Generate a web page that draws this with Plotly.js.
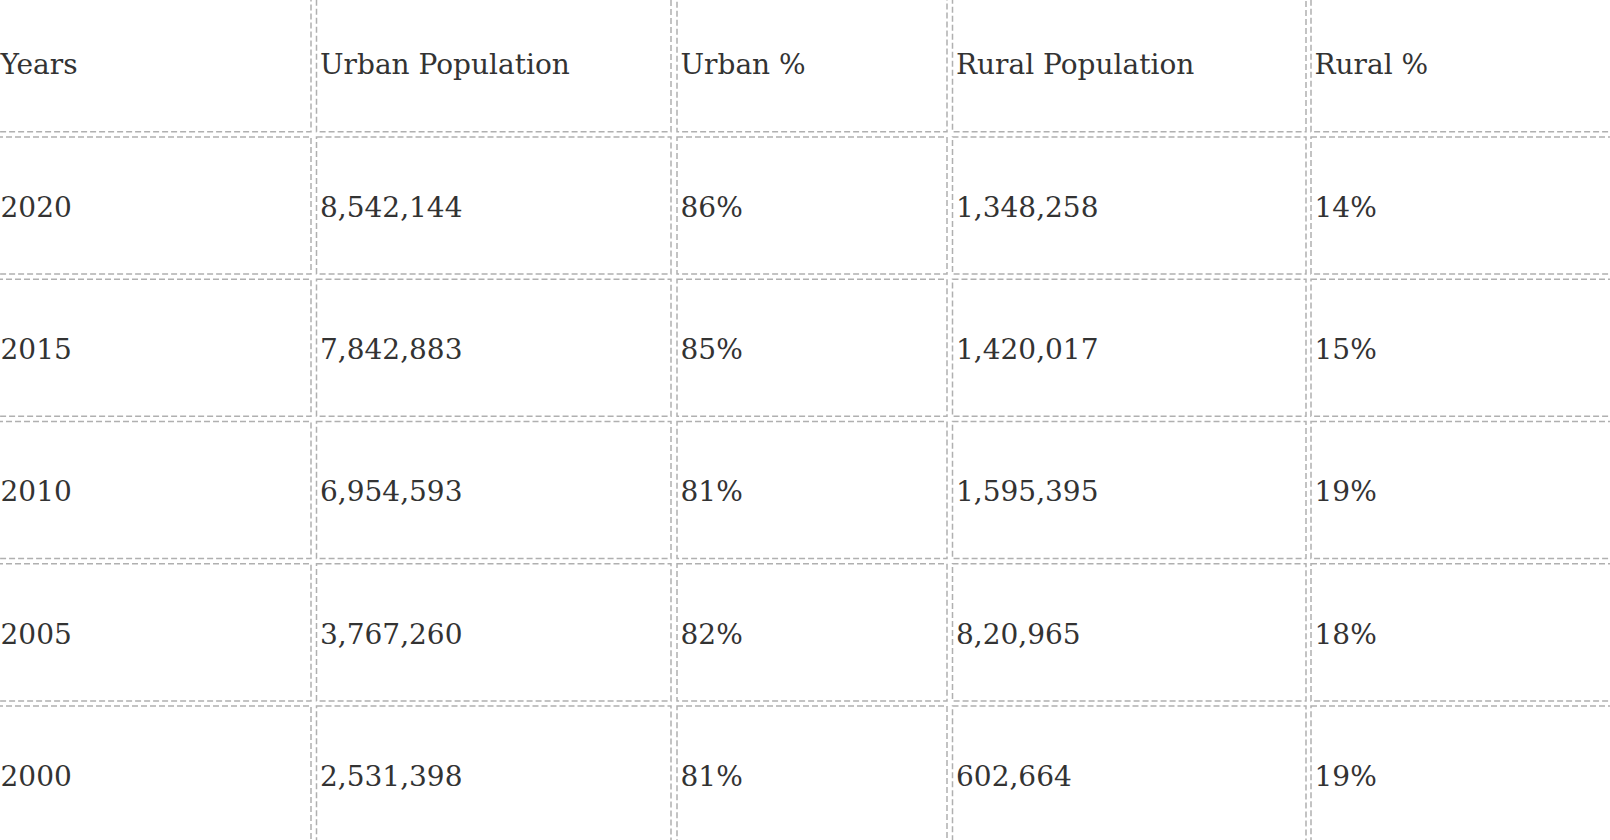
<!DOCTYPE html>
<html>
<head>
<meta charset="utf-8">
<script src="https://cdn.plot.ly/plotly-3.0.1.min.js"></script>
<style>
  html, body { margin: 0; padding: 0; background: #ffffff; }
  #chart { width: 1610px; height: 840px; }
</style>
</head>
<body>
<div id="chart"></div>
<script>
// ---- data ----
const headers = ["Years", "Urban Population", "Urban %", "Rural Population", "Rural %"];
const years = ["2020", "2015", "2010", "2005", "2000"];
const urbanPopulation = ["8,542,144", "7,842,883", "6,954,593", "3,767,260", "2,531,398"];
const urbanPct = ["86%", "85%", "81%", "82%", "81%"];
const ruralPopulation = ["1,348,258", "1,420,017", "1,595,395", "8,20,965", "602,664"];
const ruralPct = ["14%", "15%", "19%", "18%", "19%"];

// ---- layout geometry (pixel-unit axes) ----
const W = 1610, H = 840;
const colLeft  = [-3, 316.5, 677, 952.5, 1311];
const colRight = [311, 671, 947, 1306, 1625];
const rowPitch = 142.3;
const headerBottom = 131.7;   // bottom border of header row
const cellGap = 5.2;          // spacing between adjacent cell borders
const textDrop = 4.2;         // text sits a little below the cell middle
const nRows = years.length + 1;

function rowTop(k) { return headerBottom + cellGap + rowPitch * (k - 1); }
function rowBottom(k) { return headerBottom + rowPitch * k; }

const columns = [years, urbanPopulation, urbanPct, ruralPopulation, ruralPct];

// text traces: one per column
const traces = columns.map((col, c) => {
  const texts = [headers[c]].concat(col);
  const ys = texts.map((_, k) => (rowTop(k) + rowBottom(k)) / 2 + textDrop);
  const xs = texts.map(() => colLeft[c] + 3.5);
  return {
    type: "scatter",
    mode: "text",
    x: xs,
    y: ys,
    text: texts,
    textposition: "middle right",
    textfont: { family: "DejaVu Serif, serif", size: 28, color: "#333333" },
    hoverinfo: "skip",
    showlegend: false,
    cliponaxis: false
  };
});

// dashed cell borders
const shapes = [];
for (let k = 0; k < nRows; k++) {
  for (let c = 0; c < columns.length; c++) {
    shapes.push({
      type: "rect",
      xref: "x", yref: "y",
      x0: colLeft[c], x1: colRight[c],
      y0: rowTop(k), y1: rowBottom(k),
      line: { color: "#b0b0b0", width: 1.5, dash: "6px,3px" },
      fillcolor: "rgba(0,0,0,0)",
      layer: "below"
    });
  }
}

const layout = {
  width: W, height: H,
  margin: { l: 0, r: 0, t: 0, b: 0, pad: 0 },
  paper_bgcolor: "#ffffff",
  plot_bgcolor: "#ffffff",
  xaxis: { range: [0, W], visible: false, fixedrange: true },
  yaxis: { range: [H, 0], visible: false, fixedrange: true },
  shapes: shapes,
  showlegend: false
};

Plotly.newPlot("chart", traces, layout, { displayModeBar: false, staticPlot: true });
</script>
</body>
</html>
